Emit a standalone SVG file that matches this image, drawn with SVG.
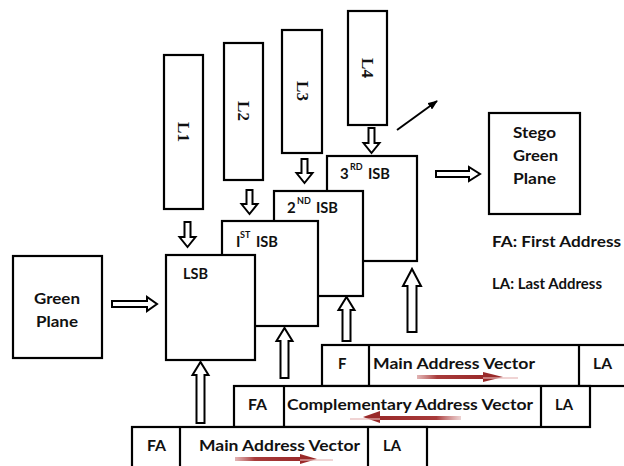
<svg xmlns="http://www.w3.org/2000/svg" width="624" height="466" viewBox="0 0 624 466">
<defs>
<style>
.box{fill:#fff;stroke:#000;stroke-width:2.2}
.ln{stroke:#000;stroke-width:2.2;fill:none}
.ha{fill:#fff;stroke:#000;stroke-width:2;stroke-linejoin:miter}
.t{font-family:Lato,"Liberation Sans",sans-serif;font-weight:bold;font-size:15px;fill:#111}
.sup{font-family:Lato,"Liberation Sans",sans-serif;font-weight:bold;font-size:9px;fill:#111}
.ser{font-family:"Liberation Serif",serif;font-weight:bold;font-size:17px;fill:#111}
</style>
<linearGradient id="gR" x1="0" y1="0" x2="1" y2="0">
<stop offset="0" stop-color="#c46a6a" stop-opacity="0.5"/>
<stop offset="0.3" stop-color="#a83a3a"/>
<stop offset="1" stop-color="#9a2a2a"/>
</linearGradient>
<linearGradient id="gL" x1="1" y1="0" x2="0" y2="0">
<stop offset="0" stop-color="#c46a6a" stop-opacity="0.3"/>
<stop offset="0.3" stop-color="#a83a3a"/>
<stop offset="1" stop-color="#9a2a2a"/>
</linearGradient>
<marker id="ah" markerWidth="10" markerHeight="8" refX="9" refY="4" orient="auto" markerUnits="userSpaceOnUse">
<path d="M0,0 L10,4 L0,8 Z" fill="#000"/>
</marker>
</defs>

<g id="L1"><rect class="box" x="164" y="55" width="39" height="154"/><text class="ser" transform="translate(183.5,132) rotate(90)" text-anchor="middle" dominant-baseline="central">L1</text></g>
<g id="L2"><rect class="box" x="224" y="43" width="39" height="137"/><text class="ser" transform="translate(243.5,111) rotate(90)" text-anchor="middle" dominant-baseline="central">L2</text></g>
<g id="L3"><rect class="box" x="282" y="30" width="40" height="123"/><text class="ser" transform="translate(302,91) rotate(90)" text-anchor="middle" dominant-baseline="central">L3</text></g>
<g id="L4"><rect class="box" x="348" y="11" width="39" height="114"/><text class="ser" transform="translate(367.5,68) rotate(90)" text-anchor="middle" dominant-baseline="central">L4</text></g>

<g id="isb3"><rect class="box" x="327" y="156" width="90" height="105"/><text class="t" x="340" y="179">3</text><text class="sup" x="350" y="170">RD</text><text class="t" x="368" y="179" textLength="22" lengthAdjust="spacingAndGlyphs">ISB</text></g>
<g id="isb2"><rect class="box" x="274" y="191" width="89" height="105"/><text class="t" x="287" y="213">2</text><text class="sup" x="297" y="204">ND</text><text class="t" x="316" y="213" textLength="22" lengthAdjust="spacingAndGlyphs">ISB</text></g>
<g id="isb1"><rect class="box" x="222" y="221" width="96" height="105"/><text class="t" x="236" y="247">I</text><text class="sup" x="240" y="238">ST</text><text class="t" x="256" y="247" textLength="22" lengthAdjust="spacingAndGlyphs">ISB</text></g>
<g id="lsb"><rect class="box" x="166" y="255" width="89" height="105"/><text class="t" x="183" y="279" textLength="25" lengthAdjust="spacingAndGlyphs">LSB</text></g>

<g id="green"><rect class="box" x="13" y="256" width="89" height="102"/><text class="t" x="34" y="304" textLength="46" lengthAdjust="spacingAndGlyphs">Green</text><text class="t" x="36" y="327" textLength="42" lengthAdjust="spacingAndGlyphs">Plane</text></g>
<g id="stego"><rect class="box" x="489" y="113" width="91" height="101"/><text class="t" x="513" y="138" textLength="43" lengthAdjust="spacingAndGlyphs">Stego</text><text class="t" x="513" y="161" textLength="45" lengthAdjust="spacingAndGlyphs">Green</text><text class="t" x="513" y="184" textLength="43" lengthAdjust="spacingAndGlyphs">Plane</text></g>

<g id="legend"><text class="t" x="492" y="247" textLength="129" lengthAdjust="spacingAndGlyphs">FA: First Address</text><text class="t" x="492" y="289" textLength="110" lengthAdjust="spacingAndGlyphs">LA: Last Address</text></g>

<g id="rowTop"><rect class="box" x="322" y="345" width="305" height="41"/><line class="ln" x1="369" y1="345" x2="369" y2="386"/><line class="ln" x1="579" y1="345" x2="579" y2="386"/>
<text class="t" x="338" y="369">F</text><text class="t" x="373" y="369" textLength="162" lengthAdjust="spacingAndGlyphs">Main Address Vector</text><text class="t" x="593" y="369" textLength="19" lengthAdjust="spacingAndGlyphs">LA</text></g>
<g id="rowMid"><rect class="box" x="234" y="386" width="356" height="41"/><line class="ln" x1="284" y1="386" x2="284" y2="427"/><line class="ln" x1="541" y1="386" x2="541" y2="427"/>
<text class="t" x="248" y="410" textLength="19" lengthAdjust="spacingAndGlyphs">FA</text><text class="t" x="287" y="410" textLength="246" lengthAdjust="spacingAndGlyphs">Complementary Address Vector</text><text class="t" x="555" y="410" textLength="18" lengthAdjust="spacingAndGlyphs">LA</text></g>
<g id="rowBot"><rect class="box" x="132" y="427" width="295" height="45"/><line class="ln" x1="180" y1="427" x2="180" y2="470"/><line class="ln" x1="368" y1="427" x2="368" y2="470"/>
<text class="t" x="147" y="451" textLength="19" lengthAdjust="spacingAndGlyphs">FA</text><text class="t" x="199" y="451" textLength="161" lengthAdjust="spacingAndGlyphs">Main Address Vector</text><text class="t" x="383" y="451" textLength="18" lengthAdjust="spacingAndGlyphs">LA</text></g>

<g id="connectors">
<path class="ha" d="M184.5,222 H190.5 V237 H195.5 L187.5,247 L179.5,237 H184.5 Z"/>
<path class="ha" d="M246.5,190 H252.5 V204 H257.5 L249.5,214 L241.5,204 H246.5 Z"/>
<path class="ha" d="M301.5,159 H307.5 V173 H312.5 L304.5,183 L296.5,173 H301.5 Z"/>
<path class="ha" d="M368.5,128 H374.5 V143 H379.5 L371.5,153 L363.5,143 H368.5 Z"/>
<path class="ha" d="M196.5,423 V375 H192.5 L200.5,362 L208.5,375 H204.5 V423 Z"/>
<path class="ha" d="M280.5,378 V341 H276.5 L284.5,328 L292.5,341 H288.5 V378 Z"/>
<path class="ha" d="M342.5,341 V310 H338.5 L346.5,297 L354.5,310 H350.5 V341 Z"/>
<path class="ha" d="M407.5,332 V286 H403 L412,269 L421,286 H416.5 V332 Z"/>
<path class="ha" d="M112,301 H147 V297 L157,304 L147,311 V307 H112 Z"/>
<path class="ha" d="M436,171 H469 V167 L480,174 L469,181 V177 H436 Z"/>
<line x1="397" y1="130" x2="437" y2="101" stroke="#000" stroke-width="2" marker-end="url(#ah)"/>
<g id="redArrows">
<rect x="235" y="457" width="66" height="4" fill="url(#gR)"/><path d="M300,454 L317,459 L300,464 Z" fill="#9a2a2a"/><rect x="300" y="459" width="33" height="2" fill="#e6b8b8" opacity="0.6"/>
<rect x="417" y="375" width="67" height="4" fill="url(#gR)"/><path d="M483,372 L503,377 L483,382 Z" fill="#9a2a2a"/><rect x="483" y="377" width="35" height="2" fill="#e6b8b8" opacity="0.6"/>
<rect x="379" y="416" width="82" height="4" fill="url(#gL)"/><path d="M380,411 L363,417 L380,423 Z" fill="#9a2a2a"/><rect x="350" y="418" width="30" height="2" fill="#e6b8b8" opacity="0.6"/>
</g>
</g>
</svg>
